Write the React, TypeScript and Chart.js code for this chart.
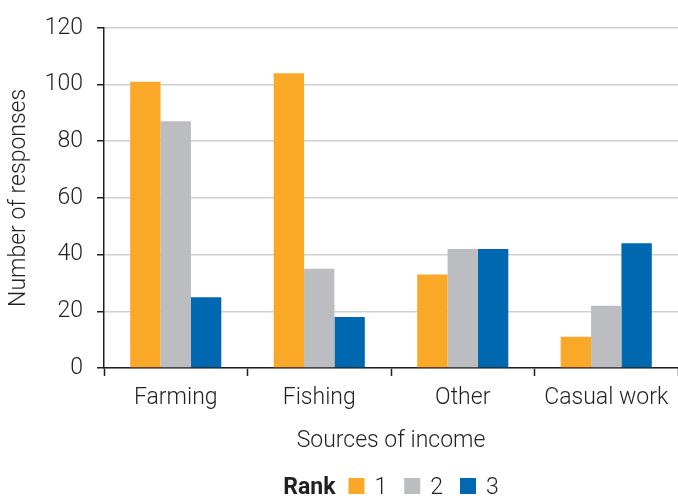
import React, { useEffect, useRef } from "react";
import { Chart, registerables } from "chart.js";

Chart.register(...registerables);

const categories = ["Farming", "Fishing", "Other", "Casual work"];
const rank1 = [101, 104, 33, 11];
const rank2 = [87, 35, 42, 22];
const rank3 = [25, 18, 42, 44];
const rankLabels = ["1", "2", "3"];
const yTicks = [0, 20, 40, 60, 80, 100, 120];

const COLORS = ["#F9A828", "#BCBDC0", "#0068B0"];
const TEXT = "#231F20";
const FONT = "Roboto, 'DejaVu Sans Condensed', sans-serif";
const SIZE = 23;

// Legend drawn as a single centered row: bold "Rank" followed by colour boxes.
const rankLegend = {
  id: "rankLegend",
  afterDraw(chart: Chart) {
    const { ctx, chartArea } = chart;
    const box = 16;
    ctx.save();
    ctx.textBaseline = "alphabetic";
    ctx.font = `bold ${SIZE}px ${FONT}`;
    const titleW = ctx.measureText("Rank").width;
    ctx.font = `300 ${SIZE}px ${FONT}`;
    const items = chart.data.datasets.map((ds) => {
      const label = String(ds.label);
      return { label, color: ds.backgroundColor as string, w: ctx.measureText(label).width };
    });
    const gapTitle = 13;
    const gapBox = 10;
    const gapItem = 17;
    let total = titleW + gapTitle;
    items.forEach((it, i) => {
      total += box + gapBox + it.w + (i < items.length - 1 ? gapItem : 0);
    });
    let x = (chartArea.left + chartArea.right) / 2 - total / 2;
    const baseline = 494;
    ctx.fillStyle = TEXT;
    ctx.font = `bold ${SIZE}px ${FONT}`;
    ctx.fillText("Rank", x, baseline);
    x += titleW + gapTitle;
    ctx.font = `300 ${SIZE}px ${FONT}`;
    items.forEach((it) => {
      ctx.fillStyle = it.color;
      ctx.fillRect(x, baseline - box, box, box);
      x += box + gapBox;
      ctx.fillStyle = TEXT;
      ctx.fillText(it.label, x, baseline);
      x += it.w + gapItem;
    });
    ctx.restore();
  },
};

export default function App() {
  const ref = useRef<HTMLCanvasElement | null>(null);

  useEffect(() => {
    if (!ref.current) return;
    const font = { family: FONT, size: SIZE, weight: "300" as any };
    const chart = new Chart(ref.current, {
      type: "bar",
      data: {
        labels: categories,
        datasets: [rank1, rank2, rank3].map((values, i) => ({
          label: rankLabels[i],
          data: values,
          backgroundColor: COLORS[i],
          borderWidth: 0,
          barPercentage: 1,
          categoryPercentage: 0.635,
        })),
      },
      options: {
        animation: false,
        responsive: false,
        maintainAspectRatio: false,
        layout: { padding: { top: 0, right: 0, bottom: 40, left: 0 } },
        plugins: {
          legend: { display: false },
          tooltip: { enabled: false },
        },
        scales: {
          x: {
            afterFit(scale: any) {
              scale.height = 90;
            },
            grid: {
              offset: true,
              drawOnChartArea: false,
              drawTicks: true,
              tickLength: 8,
              tickColor: "#231F20",
              tickWidth: 1.5,
            },
            border: { color: "#231F20", width: 1.5 },
            ticks: {
              color: TEXT,
              font,
              padding: 8,
              maxRotation: 0,
            },
            title: {
              display: true,
              text: "Sources of income",
              color: TEXT,
              font,
              padding: { top: 0, bottom: 3 },
            },
          },
          y: {
            min: 0,
            max: 120,
            afterFit(scale: any) {
              scale.width = 104;
            },
            afterBuildTicks(scale: any) {
              scale.ticks = yTicks.map((v) => ({ value: v }));
            },
            grid: {
              color: "#CFCFCF",
              lineWidth: 1.5,
              drawTicks: true,
              tickLength: 7,
              tickColor: "#231F20",
              tickWidth: 1.5,
            },
            border: { color: "#231F20", width: 1.5 },
            ticks: {
              color: TEXT,
              font,
              padding: 14,
            },
            title: {
              display: true,
              text: "Number of responses",
              color: TEXT,
              font,
              padding: { top: 5, bottom: 0 },
            },
          },
        },
      },
      plugins: [rankLegend],
    });
    return () => chart.destroy();
  }, []);

  return (
    <div style={{ position: "fixed", left: 0, top: 0, width: 678, height: 498, background: "#fff" }}>
      <canvas ref={ref} width={678} height={498} style={{ display: "block" }} />
    </div>
  );
}
